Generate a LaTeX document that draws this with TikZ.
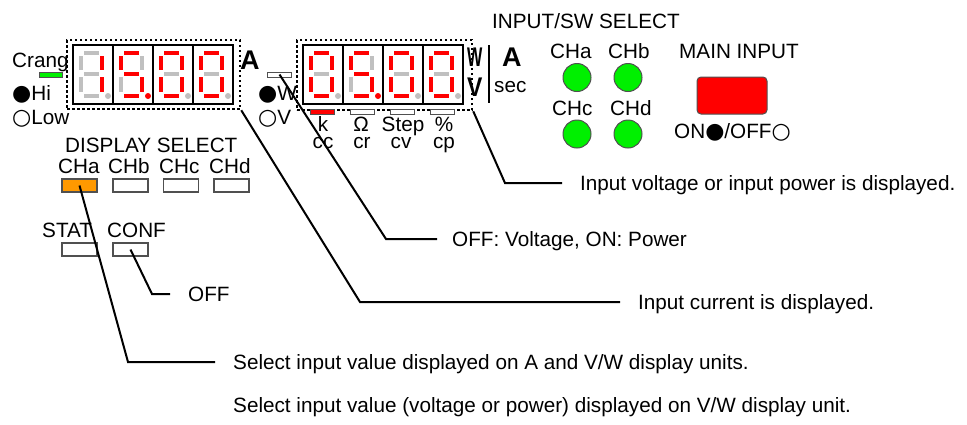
\documentclass[tikz,border=0pt]{standalone}
\usepackage{fontspec}
\setmainfont{Liberation Sans}
\newfontfamily\bulfont{DejaVu Sans}
\usepackage{tikz}
\usetikzlibrary{positioning}
\definecolor{segon}{RGB}{255,0,0}
\definecolor{segoff}{RGB}{192,192,192}
\definecolor{ledgreen}{RGB}{0,240,0}
\definecolor{panelgray}{RGB}{80,80,80}
\definecolor{selorange}{RGB}{255,153,0}
\newcommand{\bigbul}[1]{{\bulfont\fontsize{22}{22}\selectfont #1}}

\begin{document}
\begin{tikzpicture}[x=1pt, y=-1pt, font=\fontsize{20.7}{24}\selectfont,
    lbl/.style={anchor=base west, inner sep=0pt},
    clbl/.style={anchor=base, inner sep=0pt},
    unitlbl/.style={anchor=base west, inner sep=0pt, font=\fontsize{27}{27}\selectfont\bfseries},
    keybox/.style={draw=panelgray, line width=1.2pt, fill=white, minimum width=35pt, minimum height=13pt, inner sep=0pt},
    flag/.style={draw=panelgray, line width=1pt, fill=white, minimum width=24pt, minimum height=5pt, inner sep=0pt},
    led/.style={circle, draw=panelgray, line width=1pt, fill=ledgreen, minimum size=28pt, inner sep=0pt},
    dispframe/.style={draw, line width=2.5pt, dash pattern=on 2.5pt off 2.5pt, inner sep=0pt},
    seg/.style={line width=4pt},
    leader/.style={line width=2pt},
    note/.style={inner sep=0pt, text height=15pt, text depth=0pt}]
  \path[use as bounding box] (0,0) rectangle (967,424);

  \node[dispframe, minimum width=173pt, minimum height=69pt] (adisp) at (153.5,74.5) {};
  \node[dispframe, minimum width=175pt, minimum height=70pt] (vdisp) at (384.5,75) {};
  \draw[line width=2pt] (73,45) rectangle (233,104)
        (113,45) -- (113,104) (153,45) -- (153,104) (193,45) -- (193,104)
        (303,45) rectangle (463,104)
        (343,45) -- (343,104) (383,45) -- (383,104) (423,45) -- (423,104);
  \foreach \L/\a/\b/\c/\d/\e/\f/\g/\p in {
      73/segoff/segon/segon/segoff/segoff/segoff/segoff/segoff,
      113/segon/segoff/segon/segon/segoff/segon/segon/segon,
      153/segon/segon/segon/segon/segon/segon/segoff/segoff,
      193/segon/segon/segon/segon/segon/segon/segoff/segoff,
      303/segon/segon/segon/segon/segon/segon/segoff/segoff,
      343/segon/segoff/segon/segon/segoff/segon/segon/segon,
      383/segon/segon/segon/segon/segon/segon/segoff/segoff,
      423/segon/segon/segon/segon/segon/segon/segoff/segoff} {
    \draw[seg, \a] (\L+11,53) -- (\L+26,53);
    \draw[seg, \b] (\L+29,56) -- (\L+29,70);
    \draw[seg, \c] (\L+29,77) -- (\L+29,92);
    \draw[seg, \d] (\L+11,96) -- (\L+26,96);
    \draw[seg, \e] (\L+8,77) -- (\L+8,92);
    \draw[seg, \f] (\L+8,56) -- (\L+8,70);
    \draw[seg, \g] (\L+11,73.5) -- (\L+26,73.5);
    \fill[\p] (\L+35,96) circle (3pt);
  }

  \node[lbl] (crang) at (12,67) {Crang};
  \node[flag, fill=ledgreen, minimum width=23pt] (crangbar) at (50.5,74.5) {};
  \node[lbl] (hi) at (12,100) {\bigbul{●}Hi};
  \node[lbl] (low) at (12,124) {\bigbul{○}Low};
  \node[unitlbl] (aunit) at (240,69) {A};
  \node[flag] (wflag) at (279.5,74.5) {};
  \node[lbl] (wsel) at (258,100) {\bigbul{●}W};
  \node[lbl] (vsel) at (258,124) {\bigbul{○}V};
  \node[unitlbl] (wunit) at (467,66) {\scalebox{0.6}[1]{W}};
  \node[unitlbl] (vunit) at (467,96) {\scalebox{0.85}[1]{V}};
  \draw[line width=2pt] (489,45) -- (489,103);
  \node[unitlbl] (secunit) at (502,66) {A};
  \node[lbl] (sec) at (494,92) {sec};

  \node[flag, fill=segon] (kflag) at (322.5,111.5) {};
  \node[flag] (ohmflag) at (362.5,111.5) {};
  \node[flag] (stepflag) at (402.5,111.5) {};
  \node[flag] (pctflag) at (442.5,111.5) {};
  \node[clbl] (k) at (323,131) {k};
  \node[clbl] (cc) at (323,148) {cc};
  \node[clbl] (ohm) at (361,131) {Ω};
  \node[clbl] (cr) at (362,148) {cr};
  \node[clbl] (step) at (403,131) {Step};
  \node[clbl] (cv) at (401,148) {cv};
  \node[clbl] (pct) at (444,131) {\%};
  \node[clbl] (cp) at (444,148) {cp};

  \node[lbl] (inputsel) at (492,28) {INPUT/SW SELECT};
  \node[lbl] (ledalbl) at (550,58) {CHa};
  \node[lbl] (ledblbl) at (608,58) {CHb};
  \node[lbl] (ledclbl) at (552,115) {CHc};
  \node[lbl] (leddlbl) at (610,115) {CHd};
  \node[led] (leda) at (577,77.5) {};
  \node[led] (ledb) at (628,77.5) {};
  \node[led] (ledc) at (577,134) {};
  \node[led] (ledd) at (628,134) {};
  \node[lbl] (mainlbl) at (679,58) {MAIN INPUT};
  \node[draw=panelgray, line width=1pt, fill=segon, rounded corners=4pt,
        minimum width=70pt, minimum height=37pt] (mainsw) at (732,95.5) {};
  \node[lbl] (onoff) at (674,138) {ON\bigbul{●}/OFF\bigbul{○}};

  \node[lbl] (dispsel) at (65,152) {DISPLAY SELECT};
  \node[lbl] (chalbl) at (58,173) {CHa};
  \node[lbl] (chblbl) at (108,173) {CHb};
  \node[lbl] (chclbl) at (159,173) {CHc};
  \node[lbl] (chdlbl) at (209,173) {CHd};
  \node[keybox, fill=selorange] (cha) at (79.5,185.5) {};
  \node[keybox] (chb) at (130.5,185.5) {};
  \node[keybox] (chc) at (181,185.5) {};
  \node[keybox] (chd) at (231.5,185.5) {};
  \node[lbl] (statlbl) at (42,237) {STAT};
  \node[lbl] (conflbl) at (107,237) {CONF};
  \node[keybox] (stat) at (79.5,249.5) {};
  \node[keybox] (conf) at (130.5,249.5) {};

  \coordinate (vbend) at (505,183);
  \coordinate (vend) at (562,183);
  \coordinate (wbend) at (386,239);
  \coordinate (wend) at (437,239);
  \coordinate (abend) at (360,302);
  \coordinate (aend) at (620,302);
  \coordinate (confbend) at (152,294);
  \coordinate (confend) at (170,294);
  \coordinate (chabend) at (128,362);
  \coordinate (chaend) at (215,362);
  \draw[leader] (vdisp.south east) -- (vbend) -- (vend);
  \draw[leader] (wflag.center) -- (wbend) -- (wend);
  \draw[leader] (adisp.south east) -- (abend) -- (aend);
  \draw[leader] (conf.center) -- (confbend) -- (confend);
  \draw[leader] (cha.center) -- (chabend) -- (chaend);
  \node[note, right=18pt of vend] (vnote) {Input voltage or input power is displayed.};
  \node[note, right=15pt of wend] (wnote) {OFF: Voltage, ON: Power};
  \node[note, right=18pt of aend] (anote) {Input current is displayed.};
  \node[note, right=18pt of confend] (confnote) {OFF};
  \node[note, right=18pt of chaend] (chanote) {Select input value displayed on A and V/W display units.};
  \node[note, below=42.5pt of chanote.west, anchor=west] (vwnote) {Select input value (voltage or power) displayed on V/W display unit.};
\end{tikzpicture}
\end{document}
